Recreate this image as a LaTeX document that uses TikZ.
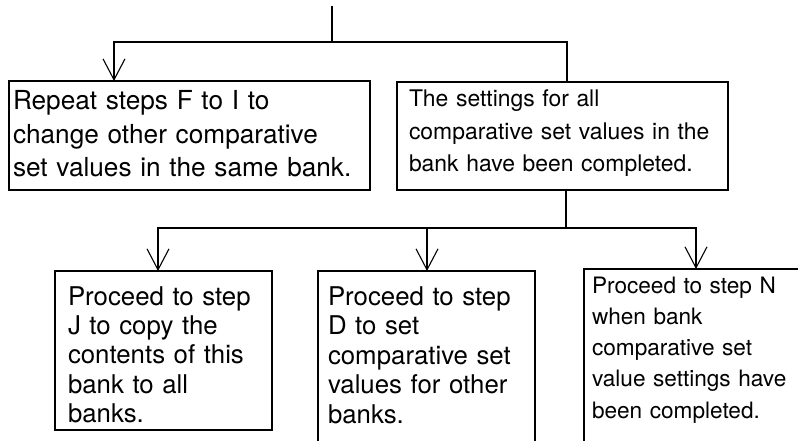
\documentclass[tikz,border=0pt]{standalone}
\usepackage{fontspec}
\setmainfont{TeX Gyre Heros}
\usetikzlibrary{arrows.meta}

\tikzset{
  stepbox/.style={draw, line width=2pt, outer sep=0pt, anchor=north west, align=left, inner ysep=0pt},
  link/.style={line width=2pt},
  vtip/.tip={Straight Barb[length=21pt,width=22pt,line width=1.1pt]},
}

\begin{document}
\begin{tikzpicture}[x=1pt,y=-1pt]
\clip (0,0) rectangle (798,441);
\node[stepbox, inner xsep=4pt, text width=353pt, text height=29pt, text depth=80pt,
  font=\fontsize{26.2}{33.5}\selectfont] (B1) at (9,81)
  {Repeat steps F to I to\\change other comparative\\set values in the same bank.};
\node[stepbox, inner xsep=12pt, text width=307pt, text height=25pt, text depth=83pt,
  font=\fontsize{22.9}{32.5}\selectfont] (B2) at (397,82)
  {The settings for all\\comparative set values in the\\bank have been completed.};
\node[stepbox, inner xsep=13pt, text width=191pt, text height=34pt, text depth=125pt,
  font=\fontsize{25.8}{29.4}\selectfont] (B21) at (55,271)
  {Proceed to step\\J to copy the\\contents of this\\bank to all\\banks.};
\node[stepbox, inner xsep=10pt, text width=197pt, text height=34pt, text depth=170pt,
  font=\fontsize{25.8}{29.5}\selectfont] (B22) at (318,271)
  {Proceed to step\\D to set\\comparative set\\values for other\\banks.};
\node[stepbox, inner xsep=8pt, text width=250pt, text height=24pt, text depth=200pt,
  font=\fontsize{22.6}{31.3}\selectfont] (B23) at (584,269)
  {Proceed to step N\\when bank\\comparative set\\value settings have\\been completed.};
\coordinate (C0) at (332,6);
\coordinate (C1) at (332,42);
\coordinate (C11) at (114,42);
\coordinate (C12) at (567,42);
\coordinate (C2) at (566,228);
\coordinate (C21) at (158,228);
\coordinate (C22) at (427,228);
\coordinate (C23) at (696,228);
\draw[link] (C0) -- (C1);
\draw[link, -vtip] (C12 |- B2.north) -- (C12) -- (C11) -- (C11 |- B1.north);
\draw[link] (C2 |- B2.south) -- (C2);
\draw[link, vtip-vtip] (C21 |- B21.north) -- (C21) -- (C23) -- (C23 |- B23.north);
\draw[link, -vtip] (C22) -- (C22 |- B22.north);
\end{tikzpicture}
\end{document}
